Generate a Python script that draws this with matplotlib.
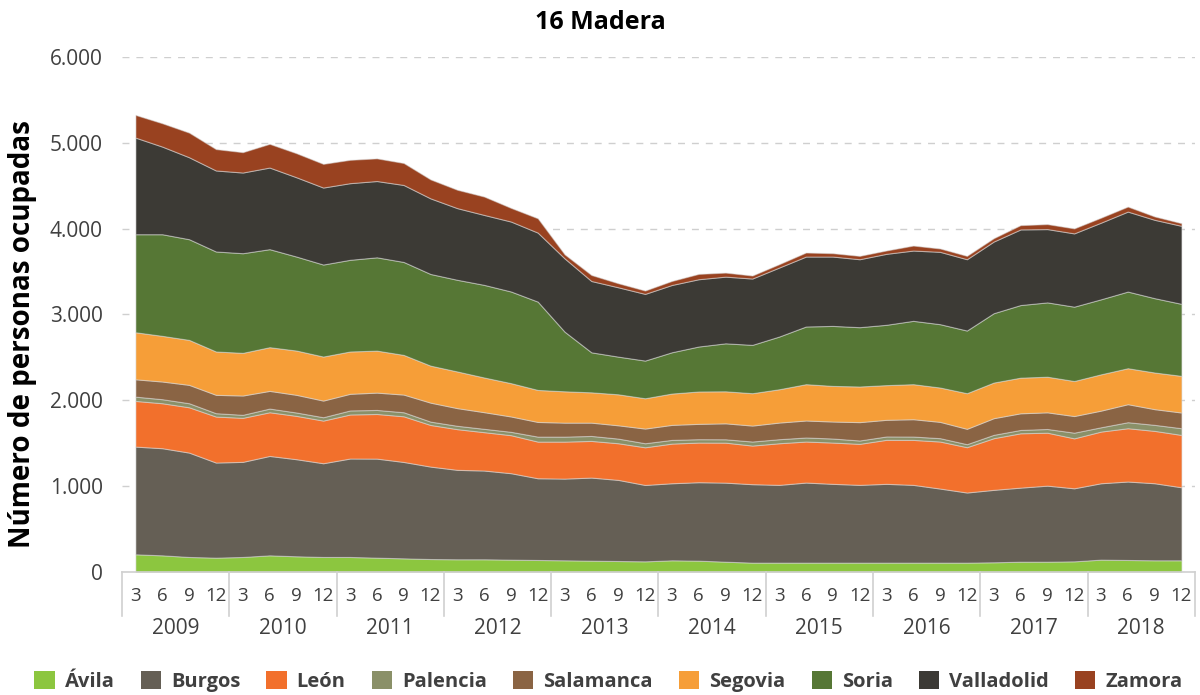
import numpy as np
import matplotlib
matplotlib.use('Agg')
from matplotlib import pyplot as plt
from matplotlib.patches import Patch
from matplotlib.ticker import FuncFormatter

plt.rcParams['font.family'] = ['Open Sans', 'DejaVu Sans']

# datos trimestrales 2009-2018 (meses 3, 6, 9, 12)
years = ['2009', '2010', '2011', '2012', '2013', '2014', '2015', '2016', '2017', '2018']
quarters = ['3', '6', '9', '12']

provincias = ['Ávila', 'Burgos', 'León', 'Palencia', 'Salamanca',
              'Segovia', 'Soria', 'Valladolid', 'Zamora']
colores = ['#8CC63F', '#655F55', '#F2702C', '#8A9068', '#8A6444',
           '#F69E38', '#567735', '#3C3A35', '#994220']

avila = [206, 194, 175, 167, 175, 194, 183, 175, 175, 167,
         159, 151, 148, 148, 144, 140, 136, 132, 128, 124,
         136, 132, 120, 109, 109, 109, 109, 109, 109, 109,
         109, 109, 113, 120, 120, 124, 144, 140, 136, 136]
burgos = [1255, 1248, 1216, 1108, 1108, 1158, 1131, 1092, 1147, 1154,
          1123, 1077, 1042, 1034, 1007, 952, 952, 968, 945, 890,
          898, 914, 921, 914, 906, 933, 918, 906, 918, 906,
          863, 817, 844, 863, 886, 851, 890, 914, 898, 851]
leon = [532, 524, 528, 536, 513, 509, 505, 497, 513, 520,
        532, 485, 474, 447, 443, 427, 431, 427, 427, 439,
        462, 462, 466, 450, 485, 478, 481, 478, 513, 524,
        548, 528, 602, 633, 617, 582, 602, 621, 610, 610]
palencia = [50, 47, 47, 39, 35, 43, 39, 39, 47, 47,
            47, 39, 39, 39, 39, 58, 58, 58, 54, 47,
            43, 39, 39, 47, 47, 47, 47, 39, 39, 39,
            39, 35, 39, 39, 43, 66, 50, 70, 70, 78]
salamanca = [202, 206, 214, 214, 225, 206, 206, 194, 194, 202,
             206, 221, 206, 194, 179, 171, 163, 155, 155, 171,
             175, 179, 186, 186, 194, 198, 198, 214, 194, 202,
             190, 179, 194, 194, 194, 194, 194, 210, 183, 183]
segovia = [548, 532, 524, 505, 497, 509, 516, 513, 493, 489,
           462, 431, 427, 404, 388, 373, 365, 353, 361, 353,
           365, 377, 373, 377, 388, 423, 415, 415, 404, 408,
           400, 415, 415, 415, 415, 408, 423, 419, 427, 427]
soria = [1142, 1184, 1173, 1165, 1161, 1142, 1095, 1072, 1068, 1087,
         1083, 1068, 1068, 1079, 1068, 1029, 695, 466, 439, 439,
         481, 524, 559, 563, 614, 672, 699, 691, 703, 738,
         738, 730, 808, 846, 866, 866, 874, 893, 866, 839]
valladolid = [1126, 1021, 955, 944, 940, 951, 924, 897, 893, 889,
              897, 881, 835, 815, 815, 804, 854, 831, 808, 777,
              784, 784, 777, 773, 804, 815, 808, 792, 827, 819,
              843, 831, 835, 881, 854, 854, 893, 932, 913, 909]
zamora = [264, 272, 287, 249, 237, 276, 280, 276, 272, 264,
          256, 221, 214, 214, 159, 167, 47, 70, 47, 39,
          47, 62, 47, 35, 39, 47, 39, 39, 39, 58,
          39, 39, 39, 50, 58, 58, 58, 58, 39, 31]

series = [avila, burgos, leon, palencia, salamanca, segovia, soria, valladolid, zamora]
n = len(years) * len(quarters)
x = np.arange(n)

fig = plt.figure(figsize=(12, 6.95), dpi=100)
ax = fig.add_axes([0.1017, 0.177, 0.894, 0.741])

polys = ax.stackplot(x, *series, colors=colores, labels=provincias, zorder=2)
for p in polys:
    p.set_edgecolor((0.85, 0.85, 0.85, 0.5))
    p.set_linewidth(0.8)

ax.set_xlim(-0.5, n - 0.5)
ax.set_ylim(0, 6000)
ax.set_yticks(np.arange(0, 6001, 1000))
ax.yaxis.set_major_formatter(FuncFormatter(lambda v, p: f'{int(v):,}'.replace(',', '.')))
ax.grid(axis='y', color='#cfcfcf', linestyle=(0, (5, 5)), linewidth=1, zorder=0)
ax.set_axisbelow(True)

for s in ['top', 'right', 'left']:
    ax.spines[s].set_visible(False)
ax.spines['bottom'].set_color('#d0d0d0')
ax.spines['bottom'].set_linewidth(1.2)

ax.tick_params(axis='y', length=0, pad=14, labelsize=15, labelcolor='#404040')
ax.set_xticks(x)
ax.set_xticklabels(quarters * len(years))
ax.tick_params(axis='x', length=0, pad=11, labelsize=13.5, labelcolor='#404040')

# separadores de años y etiquetas de año
tr = ax.get_xaxis_transform()
for k in range(len(years) + 1):
    ax.plot([k * 4 - 0.5] * 2, [0, -0.085], transform=tr, color='#d0d0d0',
            lw=1.2, clip_on=False)
for k, yr in enumerate(years):
    ax.text(k * 4 + 1.5, -0.11, yr, transform=tr, ha='center', va='center',
            fontsize=15, color='#404040')

fig.text(0.5, 0.968, '16 Madera', ha='center', va='center', fontsize=18, fontweight='bold')
fig.text(0.019, 0.52, 'Número de personas ocupadas', rotation=90, ha='center',
         va='center', fontsize=20, fontweight='bold')

handles = [Patch(facecolor=c, edgecolor='none') for c in colores]
leg = fig.legend(handles, provincias, loc='center', bbox_to_anchor=(0.507, 0.02),
                 ncol=9, frameon=False, handlelength=1.0, handleheight=1.0,
                 handletextpad=0.5, columnspacing=1.3,
                 prop={'size': 14.5, 'weight': 'bold'})
for t in leg.get_texts():
    t.set_color('#404040')

fig.savefig('out.png', dpi=100)
